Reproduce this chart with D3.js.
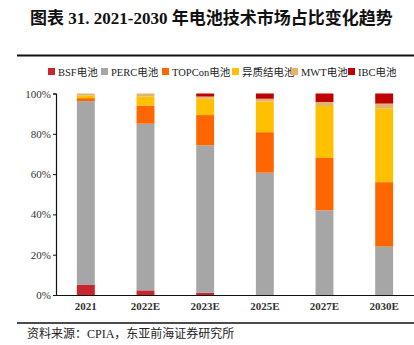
<!DOCTYPE html>
<html>
<head>
<meta charset="utf-8">
<script src="https://cdn.jsdelivr.net/npm/d3@7"></script>
<style>
  body { margin: 0; background: #fff; }
  svg { display: block; }
</style>
</head>
<body>
<svg id="chart" width="414" height="345"></svg>
<script>
// categories and series (percent share)
const years = ["2021", "2022E", "2023E", "2025E", "2027E", "2030E"];
const seriesNames = ["BSF电池", "PERC电池", "TOPCon电池", "异质结电池", "MWT电池", "IBC电池"];
const bsf    = [5.0, 2.3, 1.1, 0.0, 0.0, 0.0];
const perc   = [91.2, 82.7, 73.2, 60.7, 42.0, 24.0];
const topcon = [1.5, 9.0, 15.0, 20.1, 26.0, 32.0];
const hjt    = [1.3, 4.5, 8.1, 15.2, 25.8, 36.5];
const mwt    = [1.0, 1.5, 1.1, 1.4, 2.0, 2.5];
const ibc    = [0.0, 0.0, 1.5, 2.6, 4.2, 5.0];
const yTicks = [0, 20, 40, 60, 80, 100];
const colors = ["#C9252C", "#A6A6A6", "#FF6600", "#FFC000", "#E0B56B", "#C00000"];

const serif = "'Liberation Serif', 'Noto Sans CJK SC', serif";
const allSeries = [bsf, perc, topcon, hjt, mwt, ibc];
const rows = years.map((y, i) => {
  const r = { year: y };
  seriesNames.forEach((n, k) => (r[n] = allSeries[k][i]));
  return r;
});

const svg = d3.select("#chart");
const W = 414, H = 345;
const margin = { top: 93, right: 0, bottom: 50, left: 56 };

// title
svg.append("text")
  .attr("x", 30).attr("y", 24)
  .attr("font-family", serif)
  .attr("font-size", 17)
  .attr("font-weight", "bold")
  .attr("fill", "#111")
  .text("图表 31. 2021-2030 年电池技术市场占比变化趋势");

svg.append("line")
  .attr("x1", 17).attr("x2", 414).attr("y1", 55.5).attr("y2", 55.5)
  .attr("stroke", "#111").attr("stroke-width", 2);

// scales
const x = d3.scaleBand().domain(years).range([margin.left, W - margin.right]).paddingInner(0.7).paddingOuter(0.35);
const y = d3.scaleLinear().domain([0, 100]).range([295, 93.5]);

const stack = d3.stack().keys(seriesNames);
const layers = stack(rows);

svg.append("g")
  .selectAll("g")
  .data(layers)
  .join("g")
  .attr("fill", (d, i) => colors[i])
  .selectAll("rect")
  .data(d => d)
  .join("rect")
  .attr("x", d => x(d.data.year))
  .attr("width", x.bandwidth())
  .attr("y", d => y(d[1]))
  .attr("height", d => y(d[0]) - y(d[1]));

// y axis
const yAxis = svg.append("g")
  .attr("transform", `translate(${margin.left},0)`)
  .call(d3.axisLeft(y).tickValues(yTicks).tickFormat(d => d + "%").tickSize(3));
yAxis.select(".domain").attr("stroke", "#111").attr("stroke-width", 1.2);
yAxis.selectAll(".tick line").attr("stroke", "#111");
yAxis.selectAll("text")
  .attr("font-family", serif).attr("font-size", 11).attr("fill", "#333").attr("x", -5);

// x axis
const xAxis = svg.append("g")
  .attr("transform", `translate(0,${y(0)})`)
  .call(d3.axisBottom(x).tickSize(0).tickSizeOuter(0));
xAxis.select(".domain").attr("stroke", "#111").attr("stroke-width", 1.2);
xAxis.selectAll("text")
  .attr("font-family", serif).attr("font-size", 11).attr("font-weight", "bold")
  .attr("fill", "#333").attr("dy", "1.05em");

// legend
const legendX = [48, 101, 162, 232, 291, 348];
const legend = svg.append("g");
seriesNames.forEach((n, i) => {
  const g = legend.append("g").attr("transform", `translate(${legendX[i]},72)`);
  g.append("rect").attr("x", 0).attr("y", -4).attr("width", 7).attr("height", 7).attr("fill", colors[i]);
  g.append("text").attr("x", 10).attr("y", 3.5)
    .attr("font-family", serif).attr("font-size", 10.5).attr("fill", "#222")
    .text(n);
});

// source
svg.append("line")
  .attr("x1", 17).attr("x2", 414).attr("y1", 323).attr("y2", 323)
  .attr("stroke", "#111").attr("stroke-width", 1.5);
svg.append("text")
  .attr("x", 27).attr("y", 338)
  .attr("font-family", serif).attr("font-size", 12).attr("fill", "#222")
  .text("资料来源：CPIA，东亚前海证券研究所");
</script>
</body>
</html>
